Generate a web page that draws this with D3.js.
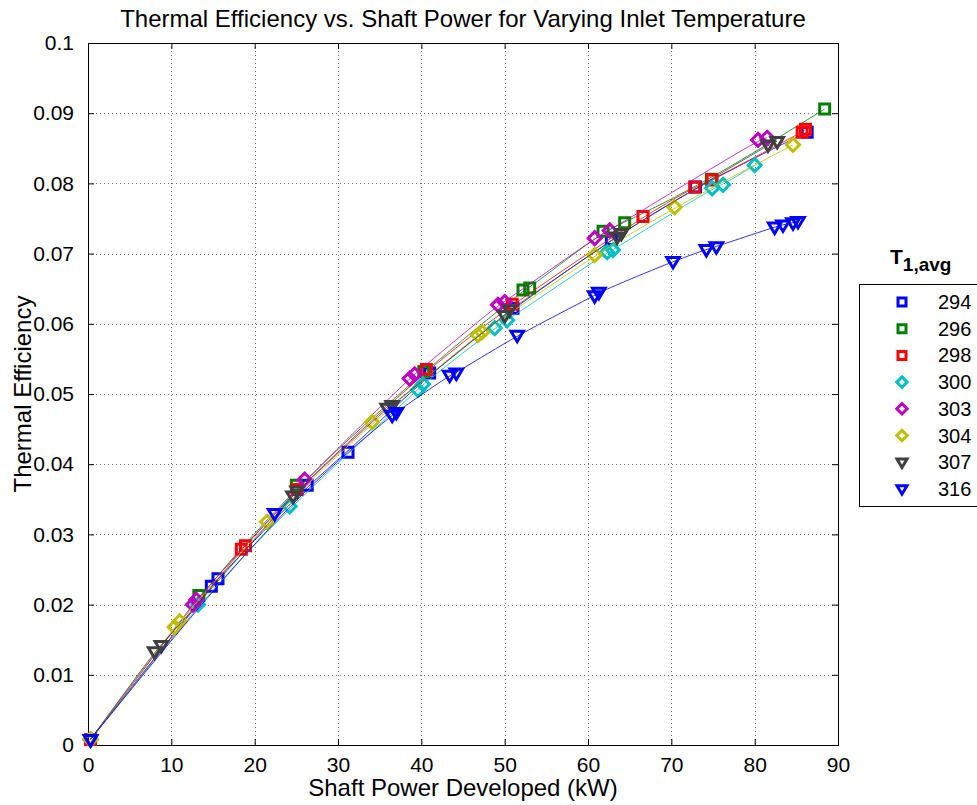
<!DOCTYPE html>
<html>
<head>
<meta charset="utf-8">
<script src="https://cdn.jsdelivr.net/npm/d3@7"></script>
<style>
  html, body { margin: 0; padding: 0; background: #fff; }
  svg { display: block; font-family: "Liberation Sans", Arial, Helvetica, sans-serif; }
</style>
</head>
<body>
<svg id="chart" width="977" height="805"></svg>
<script>
/* ── DATA ─────────────────────────────────────────────────────────────────── */
const xTicks = [0, 10, 20, 30, 40, 50, 60, 70, 80, 90];
const yTicks = [0, 0.01, 0.02, 0.03, 0.04, 0.05, 0.06, 0.07, 0.08, 0.09, 0.1];
const yTickLabels = ['0', '0.01', '0.02', '0.03', '0.04', '0.05', '0.06', '0.07', '0.08', '0.09', '0.1'];

const temps = ['294', '296', '298', '300', '303', '304', '307', '316'];

const x294 = [0.3, 14.8, 15.6, 26.3, 31.2, 41.0, 51.0, 62.8, 72.9, 86.3];
const y294 = [0.0008, 0.0226, 0.0237, 0.0370, 0.0417, 0.0530, 0.0622, 0.0720, 0.0795, 0.0873];

const x296 = [0.3, 13.3, 25.0, 40.3, 52.2, 53.0, 61.8, 64.4, 74.8, 88.4];
const y296 = [0.0008, 0.0213, 0.0370, 0.0532, 0.0648, 0.0651, 0.0732, 0.0744, 0.0806, 0.0906];

const x298 = [0.3, 18.4, 18.9, 25.1, 40.6, 50.9, 66.6, 72.8, 74.9, 85.7, 86.1];
const y298 = [0.0008, 0.0279, 0.0284, 0.0364, 0.0535, 0.0628, 0.0753, 0.0795, 0.0805, 0.0873, 0.0877];

const x300 = [0.3, 13.2, 24.2, 39.6, 40.2, 48.8, 50.3, 62.3, 63.0, 74.9, 76.2, 80.0];
const y300 = [0.0008, 0.0200, 0.0340, 0.0506, 0.0514, 0.0594, 0.0605, 0.0702, 0.0705, 0.0793, 0.0798, 0.0826];

const x303 = [0.3, 12.6, 13.0, 26.0, 38.6, 39.2, 49.2, 50.0, 60.8, 62.6, 80.4, 81.5];
const y303 = [0.0008, 0.0200, 0.0207, 0.0378, 0.0522, 0.0528, 0.0627, 0.0631, 0.0722, 0.0733, 0.0862, 0.0865];

const x304 = [0.3, 10.4, 11.0, 21.5, 34.1, 46.8, 47.3, 60.8, 70.4, 84.6];
const y304 = [0.0008, 0.0168, 0.0176, 0.0318, 0.0460, 0.0584, 0.0588, 0.0698, 0.0766, 0.0855];

const x307 = [0.3, 8.0, 8.8, 24.6, 25.1, 35.9, 36.5, 50.0, 50.6, 63.5, 64.0, 81.6, 82.7];
const y307 = [0.0008, 0.0133, 0.0142, 0.0355, 0.0362, 0.0480, 0.0484, 0.0612, 0.0620, 0.0724, 0.0729, 0.0855, 0.0860];

const x316 = [0.3, 22.4, 36.5, 37.0, 43.4, 44.2, 51.5, 60.8, 61.3, 70.2, 74.2, 75.4, 82.4, 83.4, 84.6, 85.2];
const y316 = [0.0008, 0.0330, 0.0470, 0.0474, 0.0527, 0.0530, 0.0584, 0.0640, 0.0645, 0.0689, 0.0706, 0.0710, 0.0738, 0.0741, 0.0744, 0.0746];

const seriesX = [x294, x296, x298, x300, x303, x304, x307, x316];
const seriesY = [y294, y296, y298, y300, y303, y304, y307, y316];
const colors  = ['#0000ff', '#008000', '#ff0000', '#00bfbf', '#bf00bf', '#bfbf00', '#404040', '#0000ff'];
const shapes  = ['square', 'square', 'square', 'diamond', 'diamond', 'diamond', 'tridown', 'tridown'];

/* ── LAYOUT ───────────────────────────────────────────────────────────────── */
const M = { left: 88, right: 838, top: 43, bottom: 745 };
const svg = d3.select('#chart');

const x = d3.scaleLinear().domain([0, 90]).range([M.left, M.right]);
const y = d3.scaleLinear().domain([0, 0.1]).range([M.bottom, M.top]);

/* ── GRID ─────────────────────────────────────────────────────────────────── */
const grid = svg.append('g').attr('stroke', '#707070').attr('stroke-width', 1)
  .attr('stroke-dasharray', '1,3');
grid.selectAll('.gx').data(xTicks.slice(1, -1)).join('line')
  .attr('x1', d => Math.round(x(d)) + 0.5).attr('x2', d => Math.round(x(d)) + 0.5)
  .attr('y1', M.top).attr('y2', M.bottom);
grid.selectAll('.gy').data(yTicks.slice(1, -1)).join('line')
  .attr('y1', d => Math.round(y(d)) + 0.5).attr('y2', d => Math.round(y(d)) + 0.5)
  .attr('x1', M.left).attr('x2', M.right);

/* ── AXES ─────────────────────────────────────────────────────────────────── */
const xAxis = d3.axisBottom(x).tickValues(xTicks).tickSize(-6).tickPadding(12).tickFormat(d3.format('d'));
const yAxis = d3.axisLeft(y).tickValues(yTicks).tickSize(-6).tickPadding(14)
  .tickFormat((d, i) => yTickLabels[i]);
const xTop = d3.axisTop(x).tickValues(xTicks).tickSize(-6).tickFormat('');
const yRight = d3.axisRight(y).tickValues(yTicks).tickSize(-6).tickFormat('');

function styleAxis(g) {
  g.select('.domain').remove();
  g.selectAll('.tick line').attr('stroke', '#000');
  g.selectAll('.tick text').attr('fill', '#000').attr('font-size', 21)
    .attr('font-family', '"Liberation Sans", Arial, sans-serif');
}
svg.append('g').attr('transform', `translate(0,${M.bottom})`).call(xAxis).call(styleAxis);
svg.append('g').attr('transform', `translate(${M.left},0)`).call(yAxis).call(styleAxis);
svg.append('g').attr('transform', `translate(0,${M.top})`).call(xTop).call(styleAxis);
svg.append('g').attr('transform', `translate(${M.right},0)`).call(yRight).call(styleAxis);

svg.append('rect')
  .attr('x', M.left + 0.5).attr('y', M.top + 0.5)
  .attr('width', M.right - M.left).attr('height', M.bottom - M.top)
  .attr('fill', 'none').attr('stroke', '#000').attr('stroke-width', 1);

/* ── MARKERS ──────────────────────────────────────────────────────────────── */
function markerPath(shape, s) {
  if (shape === 'square') {
    return `M${-s},${-s}H${s}V${s}H${-s}Z`;
  }
  if (shape === 'diamond') {
    const r = s * 1.3;
    return `M0,${-r}L${r},0L0,${r}L${-r},0Z`;
  }
  // downward triangle
  const w = s * 1.25, h = s * 1.1;
  return `M${-w},${-h * 0.7}L${w},${-h * 0.7}L0,${h * 1.2}Z`;
}

/* ── SERIES ───────────────────────────────────────────────────────────────── */
const line = d3.line().x(d => x(d[0])).y(d => y(d[1])).curve(d3.curveBasis);

const plot = svg.append('g');
temps.forEach((t, i) => {
  const pts = seriesX[i].map((v, j) => [v, seriesY[i][j]]);
  const g = plot.append('g').attr('class', 'series s' + t);
  g.append('path')
    .datum(pts)
    .attr('d', line)
    .attr('fill', 'none')
    .attr('stroke', colors[i])
    .attr('stroke-width', 1)
    .attr('stroke-opacity', 0.8);
  g.selectAll('path.mk')
    .data(pts)
    .join('path')
    .attr('class', 'mk')
    .attr('transform', d => `translate(${x(d[0])},${y(d[1])})`)
    .attr('d', markerPath(shapes[i], 5))
    .attr('fill', 'none')
    .attr('stroke', colors[i])
    .attr('stroke-width', 3)
    .attr('stroke-linejoin', 'miter');
});

/* ── TITLES ───────────────────────────────────────────────────────────────── */
svg.append('text')
  .attr('x', (M.left + M.right) / 2).attr('y', 27)
  .attr('text-anchor', 'middle').attr('font-size', 24)
  .text('Thermal Efficiency vs. Shaft Power for Varying Inlet Temperature');

svg.append('text')
  .attr('x', (M.left + M.right) / 2).attr('y', 796)
  .attr('text-anchor', 'middle').attr('font-size', 24)
  .text('Shaft Power Developed (kW)');

svg.append('text')
  .attr('transform', `translate(31,${(M.top + M.bottom) / 2}) rotate(-90)`)
  .attr('text-anchor', 'middle').attr('font-size', 24)
  .text('Thermal Efficiency');

/* ── LEGEND ───────────────────────────────────────────────────────────────── */
const legTitle = svg.append('text')
  .attr('x', 890).attr('y', 264)
  .attr('font-size', 21).attr('font-weight', 'bold');
legTitle.append('tspan').text('T');
legTitle.append('tspan').attr('dy', 7).attr('font-size', 19).text('1,avg');

const legTop = 284, rowH = 26.7;
svg.append('rect')
  .attr('x', 859.5).attr('y', legTop + 0.5)
  .attr('width', 130).attr('height', 222)
  .attr('fill', '#fff').attr('stroke', '#000').attr('stroke-width', 1);

const leg = svg.append('g');
temps.forEach((t, i) => {
  const cy = legTop + 18 + i * rowH;
  leg.append('path')
    .attr('transform', `translate(902,${cy})`)
    .attr('d', markerPath(shapes[i], 4))
    .attr('fill', 'none')
    .attr('stroke', colors[i])
    .attr('stroke-width', 3);
  leg.append('text')
    .attr('x', 938).attr('y', cy + 7)
    .attr('font-size', 20)
    .text(t);
});
</script>
</body>
</html>
